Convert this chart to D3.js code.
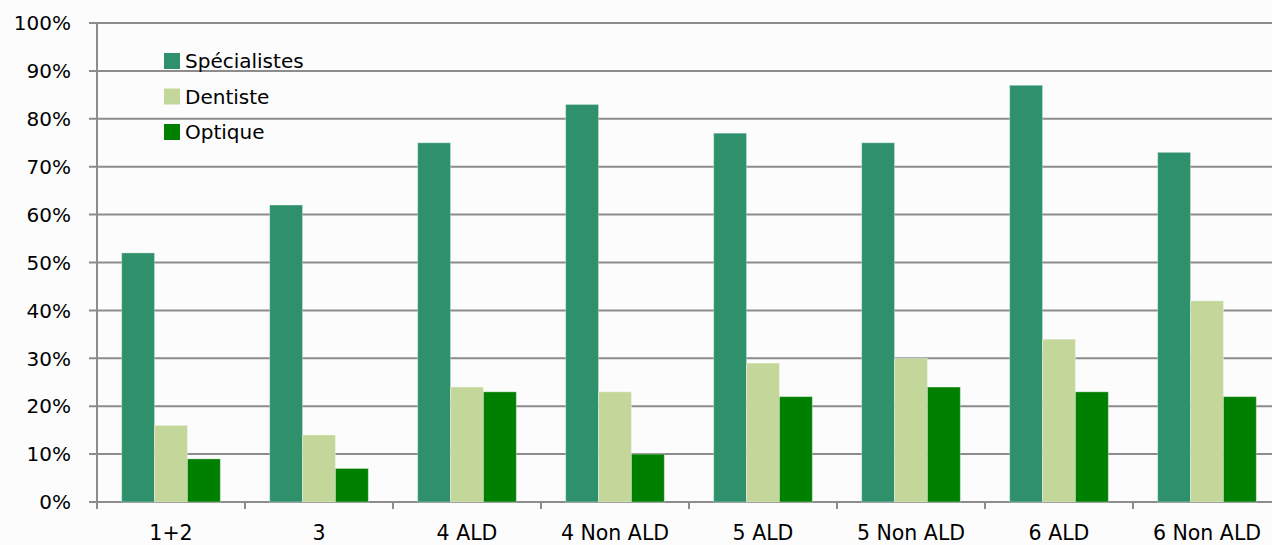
<!DOCTYPE html>
<html><head><meta charset="utf-8">
<script src="https://cdn.jsdelivr.net/npm/d3@7"></script>
<style>
html,body{margin:0;padding:0;background:#fcfcfc;}
svg{display:block;}
text{font-family:"DejaVu Sans",sans-serif;fill:#000;}
</style></head>
<body>
<svg id="c" width="1272" height="545"></svg>
<script>
const categories = ["1+2","3","4 ALD","4 Non ALD","5 ALD","5 Non ALD","6 ALD","6 Non ALD"];
const seriesNames = ["Spécialistes","Dentiste","Optique"];
const specialistes = [52,62,75,83,77,75,87,73];
const dentiste = [16,14,24,23,29,30,34,42];
const optique = [9,7,23,10,22,24,23,22];
const yTicks = [0,10,20,30,40,50,60,70,80,90,100];
const colors = ["#2e916b","#c4d79b","#008000"];

const seriesValues = [specialistes, dentiste, optique];
const svg = d3.select("#c");
const mLeft = 97, mRight = 1281, mTop = 23, mBottom = 502;

const x = d3.scaleBand().domain(categories).range([mLeft, mRight]).paddingInner(0).paddingOuter(0);
const xs = d3.scaleBand().domain(seriesNames).range([0, x.bandwidth()]).paddingInner(0).paddingOuter(0.75);
const y = d3.scaleLinear().domain([0,100]).range([mBottom, mTop]);

// gridlines
svg.append("g").selectAll("line").data(yTicks).join("line")
  .attr("x1", mLeft - 8).attr("x2", 1272)
  .attr("y1", d => y(d)).attr("y2", d => y(d))
  .attr("stroke", "#8c8c8c").attr("stroke-width", 2);

// y axis line
svg.append("line").attr("x1", mLeft).attr("x2", mLeft).attr("y1", mTop).attr("y2", mBottom + 7)
  .attr("stroke", "#8c8c8c").attr("stroke-width", 2);

// x ticks
const bounds = categories.map(c => x(c)).concat([x(categories[categories.length-1]) + x.bandwidth()]);
svg.append("g").selectAll("line").data(bounds).join("line")
  .attr("x1", d => d).attr("x2", d => d).attr("y1", mBottom).attr("y2", mBottom + 7)
  .attr("stroke", "#8c8c8c").attr("stroke-width", 2);

// y labels
svg.append("g").selectAll("text").data(yTicks).join("text")
  .attr("x", 71).attr("y", d => y(d)).attr("dy", "0.36em")
  .attr("text-anchor", "end").style("font-size", "20px")
  .text(d => d + "%");

// bars
seriesNames.forEach((s, i) => {
  svg.append("g").selectAll("rect").data(categories).join("rect")
    .attr("x", c => x(c) + xs(s))
    .attr("width", xs.bandwidth())
    .attr("y", (c, j) => y(seriesValues[i][j]))
    .attr("height", (c, j) => mBottom - y(seriesValues[i][j]))
    .attr("fill", colors[i])
    .attr("stroke", "rgba(255,255,255,0.35)").attr("stroke-width", 1);
});

// x labels
svg.append("g").selectAll("text").data(categories).join("text")
  .attr("x", c => x(c) + x.bandwidth()/2).attr("y", 540)
  .attr("text-anchor", "middle").style("font-size", "20.5px")
  .text(c => c);

// legend
const lg = svg.append("g");
seriesNames.forEach((s, i) => {
  const cy = 61 + i * 35.5;
  lg.append("rect").attr("x", 164).attr("y", cy - 8).attr("width", 16).attr("height", 16).attr("fill", colors[i]);
  lg.append("text").attr("x", 185).attr("y", cy).attr("dy", "0.36em").style("font-size", "20px").text(s);
});
</script>
</body></html>
